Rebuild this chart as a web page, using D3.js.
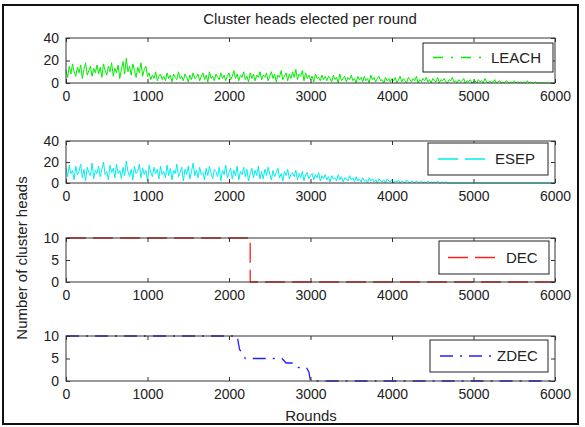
<!DOCTYPE html>
<html>
<head>
<meta charset="utf-8">
<script src="https://cdn.jsdelivr.net/npm/d3@7"></script>
<style>
  html, body { margin: 0; padding: 0; background: #fff; }
  svg text { font-family: Arial, "Liberation Sans", sans-serif; fill: #222; }
</style>
</head>
<body>
<svg id="chart" width="585" height="427"></svg>
<script>
// ---------------- DATA ----------------
const xTicks = [0, 1000, 2000, 3000, 4000, 5000, 6000];
const yTicksBig = [0, 20, 40];
const yTicksSmall = [0, 5, 10];
const sampleStep = 20; // rounds between samples of the noisy series

const leachValues = [
  12, 5, 15, 8, 17, 10, 6, 14, 9, 16, 4, 12, 18, 7, 11, 15, 6, 13, 9, 16,
  8, 14, 5, 17, 11, 7, 15, 10, 18, 6, 13, 9, 16, 4, 12, 19, 8, 22, 10, 15,
  7, 17, 11, 5, 14, 9, 18, 6, 12, 15, 6, 9, 3, 7, 4, 10, 2, 6, 8, 3,
  6, 2, 9, 4, 7, 1, 8, 5, 3, 10, 4, 6, 2, 8, 5, 1, 7, 3, 9, 4,
  5, 8, 2, 6, 9, 3, 7, 1, 10, 4, 6, 2, 8, 5, 3, 9, 4, 7, 2, 6,
  9, 3, 6, 11, 4, 8, 2, 7, 5, 10, 3, 6, 1, 9, 4, 8, 2, 7, 5, 10,
  3, 7, 5, 9, 2, 6, 10, 4, 8, 1, 7, 5, 11, 3, 6, 9, 2, 8, 4, 10,
  5, 12, 3, 8, 6, 11, 2, 9, 4, 7, 3, 6, 1, 8, 4, 5, 2, 7, 3, 6,
  2, 6, 4, 1, 7, 3, 5, 0, 8, 2, 4, 6, 1, 5, 3, 7, 2, 4, 0, 6,
  3, 5, 1, 6, 2, 4, 0, 7, 3, 5, 1, 4, 6, 2, 3, 0, 5, 2, 4, 1,
  4, 2, 5, 0, 3, 6, 1, 4, 2, 0, 5, 3, 1, 4, 2, 6, 0, 3, 1, 4,
  2, 5, 1, 3, 0, 4, 2, 1, 5, 0, 3, 2, 4, 1, 0, 3, 2, 5, 1, 2,
  0, 3, 1, 2, 4, 0, 2, 1, 3, 0, 1, 2, 0, 3, 1, 2, 0, 4, 1, 0,
  2, 0, 1, 3, 0, 1, 2, 0, 1, 0, 2, 1, 0, 1, 0, 2, 0, 1, 0, 1,
  0, 1, 0, 2, 0, 1, 0, 0, 1, 0, 0, 0, 0, 0, 0, 0, 0, 0, 0, 0, 0
];

const esepValues = [
  14, 6, 17, 9, 12, 3, 16, 8, 11, 18, 5, 13, 2, 15, 10, 7, 19, 4, 12, 9,
  16, 6, 13, 20, 8, 11, 3, 17, 10, 14, 5, 18, 9, 12, 4, 15, 7, 21, 11, 6,
  13, 3, 16, 9, 11, 18, 5, 14, 8, 12, 2, 17, 10, 6, 15, 9, 13, 4, 16, 8,
  11, 5, 17, 7, 14, 3, 12, 9, 18, 6, 10, 15, 2, 13, 8, 16, 4, 11, 19, 7,
  12, 5, 15, 8, 10, 3, 14, 7, 16, 9, 4, 13, 11, 6, 15, 2, 12, 8, 17, 5,
  10, 14, 4, 12, 7, 16, 3, 11, 8, 15, 6, 13, 2, 9, 14, 5, 12, 7, 16, 4,
  11, 4, 13, 7, 15, 9, 3, 12, 6, 10, 14, 5, 9, 2, 11, 7, 13, 4, 8, 10,
  6, 12, 3, 9, 5, 11, 2, 8, 10, 4, 7, 9, 3, 8, 5, 10, 2, 7, 4, 8,
  3, 6, 1, 7, 4, 5, 2, 8, 3, 6, 1, 5, 4, 2, 7, 3, 5, 1, 6, 2,
  4, 1, 5, 2, 3, 0, 5, 2, 4, 1, 3, 0, 4, 2, 1, 3, 0, 4, 2, 1,
  3, 0, 2, 1, 3, 0, 2, 1, 0, 3, 1, 0, 2, 1, 0, 2, 1, 0, 2, 0,
  1, 0, 2, 0, 1, 0, 1, 0, 2, 0, 0, 1, 0, 1, 0, 0, 0, 0, 0, 0,
  0, 0, 0, 0, 0, 0, 0, 0, 0, 0, 0, 0, 0, 0, 0, 0, 0, 0, 0, 0,
  0, 0, 0, 0, 0, 0, 0, 0, 0, 0, 0, 0, 0, 0, 0, 0, 0, 0, 0, 0,
  0, 0, 0, 0, 0, 0, 0, 0, 0, 0, 0, 0, 0, 0, 0, 0, 0, 0, 0, 0, 0
];

const decRounds = [0, 2260, 2260, 6000];
const decValues = [10, 10, 0, 0];

const zdecRounds = [0, 2100, 2130, 2170, 2200, 2650, 2700, 2800, 2850, 2950, 2980, 3000, 6000];
const zdecValues = [10, 10, 7, 6, 5, 5, 4, 4, 3, 3, 2, 0, 0];

// ---------------- LAYOUT ----------------
const svg = d3.select("#chart");
svg.append("rect").attr("x", 0).attr("y", 0).attr("width", 585).attr("height", 427).attr("fill", "#fff");
svg.append("rect").attr("x", 3).attr("y", 5).attr("width", 575).attr("height", 419)
  .attr("fill", "none").attr("stroke", "#111").attr("stroke-width", 2);

const left = 66, right = 555;
const x = d3.scaleLinear().domain([0, 6000]).range([left, right]);

const panels = [
  { name: "LEACH", top: 38, bottom: 83, ymax: 40, yTicks: yTicksBig, color: "#00ee00", dash: "10,8,2,8", noisy: true,
    rounds: leachValues.map((v, i) => i * sampleStep), values: leachValues,
    legend: { x0: 423, x1: 553, y0: 43, y1: 72, l0: 433, l1: 481, tx: 491 } },
  { name: "ESEP", top: 141, bottom: 183, ymax: 40, yTicks: yTicksBig, color: "#00eeee", dash: "20,7", noisy: true,
    rounds: esepValues.map((v, i) => i * sampleStep), values: esepValues,
    legend: { x0: 428, x1: 548, y0: 143, y1: 175, l0: 438, l1: 490, tx: 495 } },
  { name: "DEC", top: 238, bottom: 282, ymax: 10, yTicks: yTicksSmall, color: "#ff2020", dash: "20,7", noisy: false,
    rounds: decRounds, values: decValues,
    legend: { x0: 439, x1: 549, y0: 241, y1: 274, l0: 448, l1: 500, tx: 506 } },
  { name: "ZDEC", top: 336, bottom: 381, ymax: 10, yTicks: yTicksSmall, color: "#2020ff", dash: "13,7,2,7", noisy: false,
    rounds: zdecRounds, values: zdecValues,
    legend: { x0: 430, x1: 548, y0: 340, y1: 372, l0: 440, l1: 492, tx: 497 } }
];

const axisColor = "#333";
const tickLen = 4;

panels.forEach(p => {
  const y = d3.scaleLinear().domain([0, p.ymax]).range([p.bottom, p.top]);
  const g = svg.append("g");

  // data line
  const pts = p.rounds.map((r, i) => [r, p.values[i]]);
  const line = d3.line().x(d => x(d[0])).y(d => y(d[1]));
  const path = g.append("path").datum(pts).attr("d", line)
    .attr("fill", "none").attr("stroke", p.color).attr("stroke-width", p.noisy ? 1 : 1.3);
  if (!p.noisy) path.attr("stroke-dasharray", p.dash);

  // box
  g.append("rect").attr("x", left).attr("y", p.top).attr("width", right - left).attr("height", p.bottom - p.top)
    .attr("fill", "none").attr("stroke", axisColor).attr("stroke-width", 1);

  // x axis bottom (ticks inward, labels below)
  const xb = d3.axisBottom(x).tickValues(xTicks).tickFormat(d3.format("d")).tickSizeInner(-tickLen).tickSizeOuter(0).tickPadding(8);
  const gxb = g.append("g").attr("transform", `translate(0,${p.bottom})`).call(xb);
  gxb.select(".domain").remove();
  gxb.selectAll("line").attr("stroke", axisColor);
  gxb.selectAll("text").attr("font-size", 14).attr("fill", "#222");

  // x ticks top
  const xt = d3.axisTop(x).tickValues(xTicks).tickFormat("").tickSizeInner(-tickLen).tickSizeOuter(0);
  const gxt = g.append("g").attr("transform", `translate(0,${p.top})`).call(xt);
  gxt.select(".domain").remove();
  gxt.selectAll("line").attr("stroke", axisColor);

  // y axis left
  const yl = d3.axisLeft(y).tickValues(p.yTicks).tickFormat(d3.format("d")).tickSizeInner(-tickLen).tickSizeOuter(0).tickPadding(7);
  const gyl = g.append("g").attr("transform", `translate(${left},0)`).call(yl);
  gyl.select(".domain").remove();
  gyl.selectAll("line").attr("stroke", axisColor);
  gyl.selectAll("text").attr("font-size", 14).attr("fill", "#222");

  // y ticks right
  const yr = d3.axisRight(y).tickValues(p.yTicks).tickFormat("").tickSizeInner(-tickLen).tickSizeOuter(0);
  const gyr = g.append("g").attr("transform", `translate(${right},0)`).call(yr);
  gyr.select(".domain").remove();
  gyr.selectAll("line").attr("stroke", axisColor);

  // legend
  const L = p.legend;
  g.append("rect").attr("x", L.x0).attr("y", L.y0).attr("width", L.x1 - L.x0).attr("height", L.y1 - L.y0)
    .attr("fill", "#fff").attr("stroke", "#222").attr("stroke-width", 1);
  const cy = (L.y0 + L.y1) / 2;
  g.append("line").attr("x1", L.l0).attr("x2", L.l1).attr("y1", cy).attr("y2", cy)
    .attr("stroke", p.color).attr("stroke-width", 1.5).attr("stroke-dasharray", p.dash);
  g.append("text").attr("x", L.tx).attr("y", cy).attr("dy", "0.36em")
    .attr("font-size", 15).text(p.name);
});

// title and axis labels
svg.append("text").attr("x", 310).attr("y", 24).attr("text-anchor", "middle").attr("font-size", 15)
  .text("Cluster heads elected per round");
svg.append("text").attr("x", 311).attr("y", 421).attr("text-anchor", "middle").attr("font-size", 15)
  .text("Rounds");
svg.append("text").attr("transform", "translate(27,258) rotate(-90)").attr("text-anchor", "middle").attr("font-size", 15)
  .text("Number of cluster heads");
</script>
</body>
</html>
